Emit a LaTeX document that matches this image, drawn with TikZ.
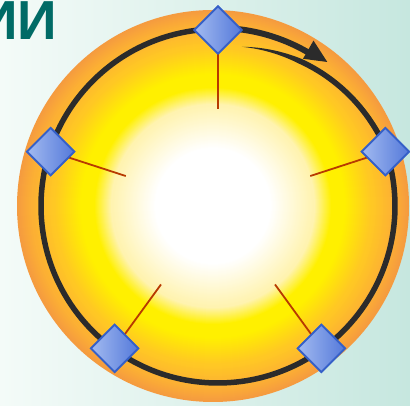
\documentclass[tikz,border=0pt]{standalone}
\usepackage{fontspec}
\newfontfamily\titlefamily{Liberation Sans}
\usetikzlibrary{shapes.geometric}
\definecolor{bgleft}{HTML}{F4FBF8}
\definecolor{bgright}{HTML}{C6E7DF}
\definecolor{titlec}{HTML}{006B66}
\definecolor{sunpale}{HTML}{FFF3B0}
\definecolor{sunyel}{HTML}{FFF000}
\definecolor{sunmid}{HTML}{FFC824}
\definecolor{sunor}{HTML}{FCB034}
\definecolor{sunedge}{HTML}{F59B40}
\definecolor{ringc}{HTML}{2B2B2B}
\definecolor{spokec}{HTML}{B83A00}
\definecolor{gemlight}{HTML}{A2BAF0}
\definecolor{gemdark}{HTML}{5479DA}
\definecolor{gemedge}{HTML}{3560C8}
\tikzset{
  ringline/.style={draw=ringc, line width=5.5},
  spoke/.style={draw=spokec, line width=1.8},
  gem/.style={diamond, aspect=1, inner sep=0, minimum width=48, minimum height=48,
    left color=gemlight, right color=gemdark, draw=gemedge, line width=1.8},
}
\begin{document}
\begin{tikzpicture}[x=1pt,y=1pt]
\useasboundingbox (0,0) rectangle (410,406);
\clip (0,0) rectangle (410,406);
\fill[left color=bgleft, right color=bgright] (0,0) rectangle (410,406);
\node[anchor=base west, inner sep=0, text=titlec,
  font=\titlefamily\bfseries\fontsize{55}{55}\selectfont] (title) at (-22,366) {ИИ};
% sun disk built from concentric bands
\foreach \r in {196,195,...,182} {%
  \pgfmathsetmacro\tt{(\r-182)/14*100}\fill[color=sunedge!\tt!sunor] (213,200) circle[radius=\r];}
\foreach \r in {181,180,...,160} {%
  \pgfmathsetmacro\tt{(\r-160)/21*100}\fill[color=sunor!\tt!sunmid] (213,200) circle[radius=\r];}
\foreach \r in {159,158,...,132} {%
  \pgfmathsetmacro\tt{(\r-132)/27*100}\fill[color=sunmid!\tt!sunyel] (213,200) circle[radius=\r];}
\fill[sunyel] (213,200) circle[radius=131];
\foreach \r in {119,118,...,102} {%
  \pgfmathsetmacro\tt{(\r-102)/17*100}\fill[color=sunyel!\tt!sunpale] (213,200) circle[radius=\r];}
\foreach \r in {101,100,...,58} {%
  \pgfmathsetmacro\tt{(\r-58)/43*100}\fill[color=sunpale!\tt!white] (213,200) circle[radius=\r];}
\begin{scope}[shift={(218,200)}]
  % main ring
  \draw[ringline] (90:177) arc[start angle=90, end angle=381, radius=177];
  % inner tapered strand
  \fill[ringc] plot[domain=19:81.5, samples=60]
      (\x:{177-16*(\x-20)/61.5 + 2.75*min(1,(81.5-\x)/21.5)})
    -- plot[domain=81.5:19, samples=60]
      (\x:{177-16*(\x-20)/61.5 - 2.75*min(1,(81.5-\x)/21.5)}) -- cycle;
  % outer strand with arrow head
  \draw[draw=ringc, line width=6] (92:178) arc[start angle=92, end angle=59.5, radius=178.5];
  \fill[ringc] (60:170) -- (52.8:180.8) -- (60:191) -- cycle;
  \foreach \a/\n in {90/1,162/2,234/3,306/4,18/5} {
    \coordinate (s\n) at (\a:97);
    \node[gem] (d\n) at (\a:176) {};
  }
\end{scope}
\foreach \n in {1,...,5} { \draw[spoke] (d\n.center) -- (s\n); }
\foreach \n in {1,...,5} { \node[gem] (g\n) at (d\n) {}; }
\end{tikzpicture}
\end{document}
